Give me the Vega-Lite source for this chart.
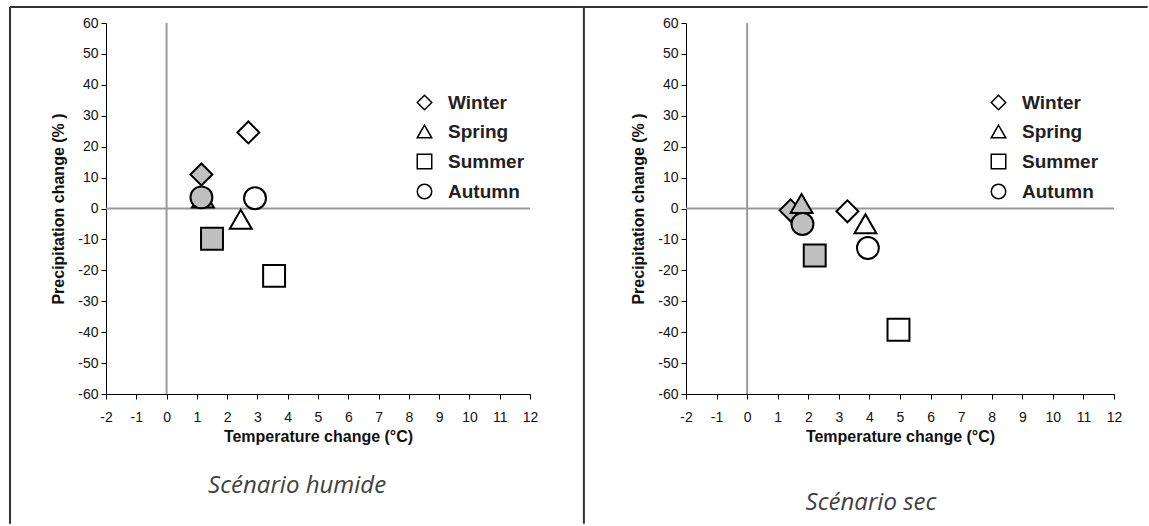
{
  "$schema": "https://vega.github.io/schema/vega-lite/v6.json",
  "autosize": {"type": "pad"},
  "padding": {"left": 8, "top": 6, "right": 0, "bottom": 0},
  "background": "white",
  "bounds": "flush",
  "spacing": 156,
  "config": {
    "view": {"stroke": null},
    "axis": {
      "grid": false,
      "domainColor": "#000000",
      "domainWidth": 1,
      "tickColor": "#000000",
      "tickSize": 5,
      "labelFont": "Liberation Sans",
      "labelFontSize": 14,
      "labelColor": "#111111",
      "labelOverlap": false,
      "labelFlush": false,
      "labelExpr": "'' + datum.value",
      "titleFont": "Liberation Sans",
      "titleFontSize": 16,
      "titleFontWeight": "bold",
      "titleColor": "#111111"
    },
    "axisX": {"labelPadding": 11, "titlePadding": 4},
    "axisY": {"labelPadding": 3, "titlePadding": 11},
    "legend": {
      "title": null,
      "labelFont": "Liberation Sans",
      "labelFontSize": 19,
      "labelFontWeight": "bold",
      "labelColor": "#222222",
      "labelOffset": 14,
      "rowPadding": 9,
      "symbolSize": 210,
      "symbolStrokeWidth": 1.5,
      "symbolStrokeColor": "#000000",
      "symbolFillColor": "#ffffff"
    }
  },
  "datasets": {
    "humide": [
      {"season": "Winter", "model": "A", "temp": 1.15, "precip": 11.0},
      {"season": "Winter", "model": "B", "temp": 2.7, "precip": 24.6},
      {"season": "Spring", "model": "A", "temp": 1.2, "precip": 3.4},
      {"season": "Spring", "model": "B", "temp": 2.45, "precip": -3.5},
      {"season": "Summer", "model": "A", "temp": 1.5, "precip": -9.8},
      {"season": "Summer", "model": "B", "temp": 3.55, "precip": -21.8},
      {"season": "Autumn", "model": "A", "temp": 1.15, "precip": 3.6},
      {"season": "Autumn", "model": "B", "temp": 2.92, "precip": 3.3}
    ],
    "sec": [
      {"season": "Winter", "model": "A", "temp": 1.42, "precip": -0.6},
      {"season": "Winter", "model": "B", "temp": 3.28, "precip": -0.9},
      {"season": "Spring", "model": "A", "temp": 1.78, "precip": 1.6},
      {"season": "Spring", "model": "B", "temp": 3.87, "precip": -4.9},
      {"season": "Summer", "model": "A", "temp": 2.21, "precip": -15.2},
      {"season": "Summer", "model": "B", "temp": 4.95, "precip": -39.2},
      {"season": "Autumn", "model": "A", "temp": 1.81, "precip": -5.0},
      {"season": "Autumn", "model": "B", "temp": 3.95, "precip": -12.8}
    ]
  },
  "resolve": {
    "scale": {"x": "independent", "y": "independent", "shape": "independent", "fill": "independent"},
    "legend": {"shape": "independent"}
  },
  "hconcat": [
    {
      "width": 424,
      "height": 371,
      "layer": [
        {
          "data": {"values": [{}]},
          "mark": {"type": "rule", "color": "#333333", "strokeWidth": 2},
          "encoding": {
            "x": {"datum": -5.17, "axis": {"title": "Temperature change (°C)", "values": [-2,-1,0,1,2,3,4,5,6,7,8,9,10,11,12], "encode": {"labels": {"update": {"fontSize": {"value": 14}}}}}},
            "x2": {"datum": 13.78},
            "y": {"datum": 65.17, "axis": {"title": "Precipitation change (% )", "values": [-60,-50,-40,-30,-20,-10,0,10,20,30,40,50,60], "encode": {"labels": {"update": {"fontSize": {"value": 14}}}}}}
          }
        },
        {
          "data": {"values": [{}]},
          "mark": {"type": "rule", "color": "#333333", "strokeWidth": 2},
          "encoding": {
            "x": {"datum": -5.17, "axis": {"title": "Temperature change (°C)", "values": [-2,-1,0,1,2,3,4,5,6,7,8,9,10,11,12], "encode": {"labels": {"update": {"fontSize": {"value": 14}}}}}},
            "y": {"datum": 65.17, "axis": {"title": "Precipitation change (% )", "values": [-60,-50,-40,-30,-20,-10,0,10,20,30,40,50,60], "encode": {"labels": {"update": {"fontSize": {"value": 14}}}}}},
            "y2": {"datum": -102}
          }
        },
        {
          "data": {"values": [{}]},
          "mark": {"type": "rule", "color": "#333333", "strokeWidth": 2},
          "encoding": {
            "x": {"datum": 13.78, "axis": {"title": "Temperature change (°C)", "values": [-2,-1,0,1,2,3,4,5,6,7,8,9,10,11,12], "encode": {"labels": {"update": {"fontSize": {"value": 14}}}}}},
            "y": {"datum": 65.17, "axis": {"title": "Precipitation change (% )", "values": [-60,-50,-40,-30,-20,-10,0,10,20,30,40,50,60], "encode": {"labels": {"update": {"fontSize": {"value": 14}}}}}},
            "y2": {"datum": -102}
          }
        },
        {
          "data": {"values": [{}]},
          "mark": {"type": "text", "font": "Open Sans", "fontStyle": "italic", "fontSize": 24, "color": "#404040", "align": "center", "baseline": "middle"},
          "encoding": {
            "x": {"datum": 4.31, "axis": {"title": "Temperature change (°C)", "values": [-2,-1,0,1,2,3,4,5,6,7,8,9,10,11,12], "encode": {"labels": {"update": {"fontSize": {"value": 14}}}}}},
            "y": {"datum": -89.6, "axis": {"title": "Precipitation change (% )", "values": [-60,-50,-40,-30,-20,-10,0,10,20,30,40,50,60], "encode": {"labels": {"update": {"fontSize": {"value": 14}}}}}},
            "text": {"value": "Scénario humide"}
          }
        },
        {
          "data": {"values": [{}]},
          "mark": {"type": "rule", "color": "#999999", "strokeWidth": 2},
          "encoding": {
            "x": {"datum": 0, "axis": {"title": "Temperature change (°C)", "values": [-2,-1,0,1,2,3,4,5,6,7,8,9,10,11,12], "encode": {"labels": {"update": {"fontSize": {"value": 14}}}}}},
            "y": {"datum": -60, "axis": {"title": "Precipitation change (% )", "values": [-60,-50,-40,-30,-20,-10,0,10,20,30,40,50,60], "encode": {"labels": {"update": {"fontSize": {"value": 14}}}}}},
            "y2": {"datum": 60}
          }
        },
        {
          "data": {"values": [{}]},
          "mark": {"type": "rule", "color": "#999999", "strokeWidth": 2},
          "encoding": {
            "x": {"datum": -2, "axis": {"title": "Temperature change (°C)", "values": [-2,-1,0,1,2,3,4,5,6,7,8,9,10,11,12], "encode": {"labels": {"update": {"fontSize": {"value": 14}}}}}},
            "x2": {"datum": 12},
            "y": {"datum": 0, "axis": {"title": "Precipitation change (% )", "values": [-60,-50,-40,-30,-20,-10,0,10,20,30,40,50,60], "encode": {"labels": {"update": {"fontSize": {"value": 14}}}}}}
          }
        },
        {
          "data": {"name": "humide"},
          "mark": {"type": "point", "filled": true, "stroke": "#000000", "strokeWidth": 2, "size": 480, "opacity": 1},
          "encoding": {
            "x": {"field": "temp", "type": "quantitative",
                  "scale": {"domain": [-2, 12], "nice": false, "zero": false},
                  "axis": {"title": "Temperature change (°C)", "values": [-2,-1,0,1,2,3,4,5,6,7,8,9,10,11,12], "encode": {"labels": {"update": {"fontSize": {"value": 14}}}}}},
            "y": {"field": "precip", "type": "quantitative",
                  "scale": {"domain": [-60, 60], "nice": false, "zero": false},
                  "axis": {"title": "Precipitation change (% )", "values": [-60,-50,-40,-30,-20,-10,0,10,20,30,40,50,60], "encode": {"labels": {"update": {"fontSize": {"value": 14}}}}}},
            "shape": {"field": "season", "type": "nominal",
                      "scale": {"domain": ["Winter", "Spring", "Summer", "Autumn"], "range": ["diamond", "triangle-up", "square", "circle"]},
                      "legend": {"orient": "none", "legendX": 309, "legendY": 70,
                                 "encode": {"symbols": {"update": {"fill": {"value": "#ffffff"}, "stroke": {"value": "#000000"}, "strokeWidth": {"value": 1.5}}}}}},
            "fill": {"field": "model", "type": "nominal",
                     "scale": {"domain": ["A", "B"], "range": ["#c0c0c0", "#ffffff"]}, "legend": null}
          }
        }
      ]
    },
    {
      "width": 428,
      "height": 371,
      "layer": [
        {
          "data": {"values": [{}]},
          "mark": {"type": "rule", "color": "#333333", "strokeWidth": 2},
          "encoding": {
            "x": {"datum": -5.34, "axis": {"title": "Temperature change (°C)", "values": [-2,-1,0,1,2,3,4,5,6,7,8,9,10,11,12], "encode": {"labels": {"update": {"fontSize": {"value": 14}}}}}},
            "x2": {"datum": 13.1},
            "y": {"datum": 65.17, "axis": {"title": "Precipitation change (% )", "values": [-60,-50,-40,-30,-20,-10,0,10,20,30,40,50,60], "encode": {"labels": {"update": {"fontSize": {"value": 14}}}}}}
          }
        },
        {
          "data": {"values": [{}]},
          "mark": {"type": "text", "font": "Open Sans", "fontStyle": "italic", "fontSize": 24, "color": "#404040", "align": "center", "baseline": "middle"},
          "encoding": {
            "x": {"datum": 4.05, "axis": {"title": "Temperature change (°C)", "values": [-2,-1,0,1,2,3,4,5,6,7,8,9,10,11,12], "encode": {"labels": {"update": {"fontSize": {"value": 14}}}}}},
            "y": {"datum": -95.4, "axis": {"title": "Precipitation change (% )", "values": [-60,-50,-40,-30,-20,-10,0,10,20,30,40,50,60], "encode": {"labels": {"update": {"fontSize": {"value": 14}}}}}},
            "text": {"value": "Scénario sec"}
          }
        },
        {
          "data": {"values": [{}]},
          "mark": {"type": "rule", "color": "#999999", "strokeWidth": 2},
          "encoding": {
            "x": {"datum": 0, "axis": {"title": "Temperature change (°C)", "values": [-2,-1,0,1,2,3,4,5,6,7,8,9,10,11,12], "encode": {"labels": {"update": {"fontSize": {"value": 14}}}}}},
            "y": {"datum": -60, "axis": {"title": "Precipitation change (% )", "values": [-60,-50,-40,-30,-20,-10,0,10,20,30,40,50,60], "encode": {"labels": {"update": {"fontSize": {"value": 14}}}}}},
            "y2": {"datum": 60}
          }
        },
        {
          "data": {"values": [{}]},
          "mark": {"type": "rule", "color": "#999999", "strokeWidth": 2},
          "encoding": {
            "x": {"datum": -2, "axis": {"title": "Temperature change (°C)", "values": [-2,-1,0,1,2,3,4,5,6,7,8,9,10,11,12], "encode": {"labels": {"update": {"fontSize": {"value": 14}}}}}},
            "x2": {"datum": 12},
            "y": {"datum": 0, "axis": {"title": "Precipitation change (% )", "values": [-60,-50,-40,-30,-20,-10,0,10,20,30,40,50,60], "encode": {"labels": {"update": {"fontSize": {"value": 14}}}}}}
          }
        },
        {
          "data": {"name": "sec"},
          "mark": {"type": "point", "filled": true, "stroke": "#000000", "strokeWidth": 2, "size": 480, "opacity": 1},
          "encoding": {
            "x": {"field": "temp", "type": "quantitative",
                  "scale": {"domain": [-2, 12], "nice": false, "zero": false},
                  "axis": {"title": "Temperature change (°C)", "values": [-2,-1,0,1,2,3,4,5,6,7,8,9,10,11,12], "encode": {"labels": {"update": {"fontSize": {"value": 14}}}}}},
            "y": {"field": "precip", "type": "quantitative",
                  "scale": {"domain": [-60, 60], "nice": false, "zero": false},
                  "axis": {"title": "Precipitation change (% )", "values": [-60,-50,-40,-30,-20,-10,0,10,20,30,40,50,60], "encode": {"labels": {"update": {"fontSize": {"value": 14}}}}}},
            "shape": {"field": "season", "type": "nominal",
                      "scale": {"domain": ["Winter", "Spring", "Summer", "Autumn"], "range": ["diamond", "triangle-up", "square", "circle"]},
                      "legend": {"orient": "none", "legendX": 303, "legendY": 70,
                                 "encode": {"symbols": {"update": {"fill": {"value": "#ffffff"}, "stroke": {"value": "#000000"}, "strokeWidth": {"value": 1.5}}}}}},
            "fill": {"field": "model", "type": "nominal",
                     "scale": {"domain": ["A", "B"], "range": ["#c0c0c0", "#ffffff"]}, "legend": null}
          }
        }
      ]
    }
  ]
}
